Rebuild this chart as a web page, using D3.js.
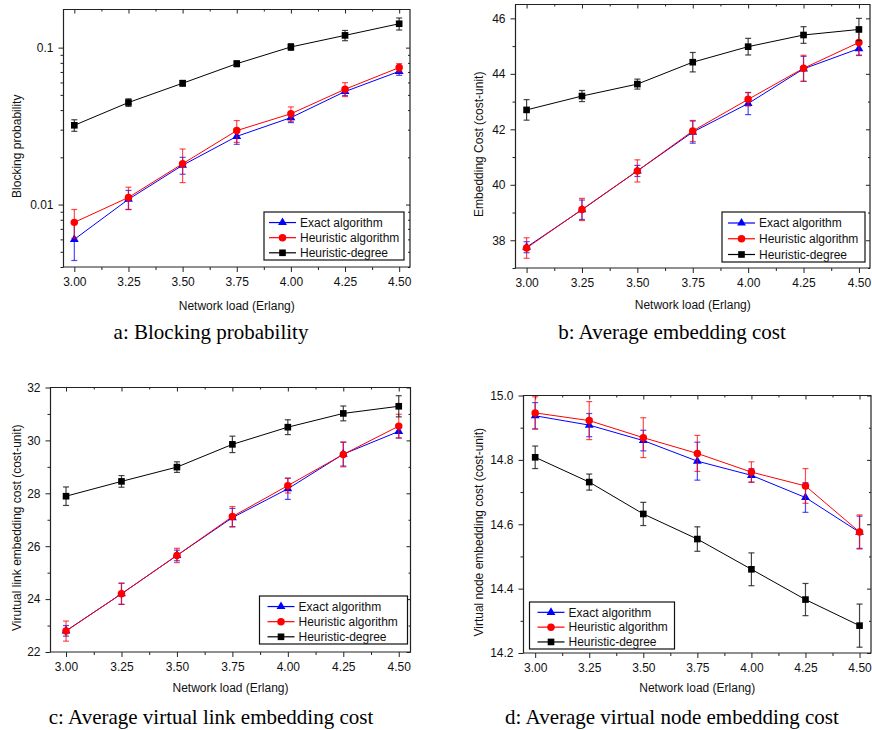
<!DOCTYPE html>
<html>
<head>
<meta charset="utf-8">
<script src="https://cdn.jsdelivr.net/npm/d3@7"></script>
<style>
  body { margin: 0; background: #fff; }
  svg { display: block; }
  .tick text { font-family: "Liberation Sans", Arial, sans-serif; font-size: 12px; fill: #111; }
  .ttl { font-family: "Liberation Sans", Arial, sans-serif; font-size: 12px; fill: #111; }
  .cap { font-family: "Liberation Serif", "Times New Roman", serif; font-size: 21px; fill: #000; }
  .leg { font-family: "Liberation Sans", Arial, sans-serif; font-size: 12px; fill: #111; }
</style>
</head>
<body>
<div id="chart"></div>
<script>
// network load values on x, shared by all 4 plots
var loads = [3.00, 3.25, 3.50, 3.75, 4.00, 4.25, 4.50];
var seriesNames = ["Exact algorithm", "Heuristic algorithm", "Heuristic-degree"];

// a: blocking probability
var blockExact    = [0.0060, 0.0108, 0.0178, 0.0272, 0.0358, 0.0525, 0.0706];
var blockExactErr = [0.0016, 0.0015, 0.0022, 0.0030, 0.0025, 0.0030, 0.0040];
var blockHeur     = [0.0077, 0.0111, 0.0182, 0.0296, 0.0379, 0.0543, 0.0746];
var blockHeurErr  = [0.0016, 0.0018, 0.0044, 0.0047, 0.0040, 0.0055, 0.0045];
var blockDeg      = [0.0320, 0.0447, 0.0593, 0.0790, 0.1010, 0.1197, 0.1420];
var blockDegErr   = [0.0027, 0.0025, 0.0025, 0.0035, 0.0050, 0.0090, 0.0125];

// b: average embedding cost
var costExact    = [37.75, 39.10, 40.50, 41.90, 42.93, 44.18, 44.91];
var costExactErr = [0.20, 0.35, 0.20, 0.40, 0.40, 0.45, 0.25];
var costHeur     = [37.72, 39.11, 40.50, 41.94, 43.08, 44.20, 45.13];
var costHeurErr  = [0.37, 0.40, 0.40, 0.38, 0.24, 0.47, 0.45];
var costDeg      = [42.70, 43.20, 43.63, 44.42, 44.98, 45.40, 45.60];
var costDegErr   = [0.37, 0.20, 0.18, 0.35, 0.30, 0.30, 0.40];

// c: average virtual link embedding cost
var linkExact    = [22.80, 24.20, 25.65, 27.08, 28.17, 29.48, 30.34];
var linkExactErr = [0.20, 0.40, 0.20, 0.35, 0.40, 0.45, 0.25];
var linkHeur     = [22.79, 24.20, 25.65, 27.12, 28.29, 29.47, 30.54];
var linkHeurErr  = [0.38, 0.40, 0.27, 0.38, 0.28, 0.47, 0.45];
var linkDeg      = [27.89, 28.45, 28.99, 29.85, 30.50, 31.02, 31.29];
var linkDegErr   = [0.35, 0.22, 0.20, 0.31, 0.28, 0.28, 0.40];

// d: average virtual node embedding cost
var nodeExact    = [14.937, 14.908, 14.860, 14.796, 14.752, 14.683, 14.575];
var nodeExactErr = [0.041, 0.036, 0.032, 0.059, 0.021, 0.046, 0.050];
var nodeHeur     = [14.946, 14.922, 14.869, 14.820, 14.762, 14.719, 14.576];
var nodeHeurErr  = [0.050, 0.059, 0.062, 0.056, 0.032, 0.054, 0.053];
var nodeDeg      = [14.808, 14.731, 14.632, 14.554, 14.460, 14.366, 14.285];
var nodeDegErr   = [0.035, 0.025, 0.036, 0.038, 0.051, 0.050, 0.067];

// tick values
var xMinor = d3.range(3.125, 4.5, 0.25);
var blockTicks = [0.01, 0.1];
var blockMinor = [0.004, 0.005, 0.006, 0.007, 0.008, 0.009, 0.02, 0.03, 0.04, 0.05, 0.06, 0.07, 0.08, 0.09];
var costTicks = [38, 40, 42, 44, 46];
var costMinor = [37, 39, 41, 43, 45];
var linkTicks = [22, 24, 26, 28, 30, 32];
var linkMinor = [23, 25, 27, 29, 31];
var nodeTicks = [14.2, 14.4, 14.6, 14.8, 15.0];
var nodeMinor = [14.3, 14.5, 14.7, 14.9];

var colors = ["#0000ff", "#ff0000", "#000000"];
var symbols = [d3.symbolTriangle, d3.symbolCircle, d3.symbolSquare];
var symSizes = [34, 44, 44];

var panels = [
  { box: [63.5, 9.5, 410, 267], xdom: [2.95, 4.55], log: true, ydom: [0.004, 0.175],
    yt: blockTicks, ym: blockMinor, yfmt: d3.format(""),
    series: [[blockExact, blockExactErr], [blockHeur, blockHeurErr], [blockDeg, blockDegErr]],
    ytitle: "Blocking probability", ytx: 21, xty: 310,
    cap: "a: Blocking probability", capx: 211, capy: 339,
    leg: [264, 212, 140, 48, 5] },
  { box: [515.5, 4.5, 870, 268], xdom: [2.95, 4.55], ydom: [37, 46.5],
    yt: costTicks, ym: costMinor, yfmt: d3.format("d"),
    series: [[costExact, costExactErr], [costHeur, costHeurErr], [costDeg, costDegErr]],
    ytitle: "Embedding Cost (cost-unit)", ytx: 483, xty: 309,
    cap: "b: Average embedding cost", capx: 672, capy: 339,
    leg: [722, 212, 143, 50, 6] },
  { box: [50.5, 387.5, 410.5, 652], xdom: [2.93, 4.553], ydom: [22, 32],
    yt: linkTicks, ym: linkMinor, yfmt: d3.format("d"),
    series: [[linkExact, linkExactErr], [linkHeur, linkHeurErr], [linkDeg, linkDegErr]],
    ytitle: "Virutual link embedding cost (cost-unit)", ytx: 21, xty: 692,
    cap: "c: Average virtual link embedding cost", capx: 211, capy: 724,
    leg: [259.5, 596, 148, 48, 8] },
  { box: [523.5, 395.5, 871, 653], xdom: [2.946, 4.553], ydom: [14.2, 15.0],
    yt: nodeTicks, ym: nodeMinor, yfmt: d3.format(".1f"),
    series: [[nodeExact, nodeExactErr], [nodeHeur, nodeHeurErr], [nodeDeg, nodeDegErr]],
    ytitle: "Virtual node embedding cost (cost-unit)", ytx: 483, xty: 692,
    cap: "d: Average virtual node embedding cost", capx: 672, capy: 724,
    leg: [529.5, 602, 145, 47, 8] }
];

var svg = d3.select("#chart").append("svg")
  .attr("width", 872)
  .attr("height", 730);

panels.forEach(function(p) {
  var L = p.box[0], T = p.box[1], R = p.box[2], B = p.box[3];
  var x = d3.scaleLinear().domain(p.xdom).range([L, R]);
  var y = (p.log ? d3.scaleLog() : d3.scaleLinear()).domain(p.ydom).range([B, T]);

  var g = svg.append("g");

  // axes: outward ticks bottom/left, inward ticks top/right
  function ax(a, tr) {
    var sel = g.append("g").attr("transform", tr).call(a);
    sel.select(".domain").remove();
    sel.selectAll(".tick line").attr("stroke", "#222");
    return sel;
  }
  ax(d3.axisBottom(x).tickValues(loads).tickFormat(d3.format(".2f")).tickSize(5).tickPadding(5), "translate(0," + B + ")");
  ax(d3.axisBottom(x).tickValues(xMinor).tickFormat("").tickSize(3), "translate(0," + B + ")");
  ax(d3.axisTop(x).tickValues(loads).tickFormat("").tickSize(-4), "translate(0," + T + ")");
  ax(d3.axisTop(x).tickValues(xMinor).tickFormat("").tickSize(-2), "translate(0," + T + ")");
  ax(d3.axisLeft(y).tickValues(p.yt).tickFormat(p.yfmt).tickSize(5).tickPadding(5), "translate(" + L + ",0)");
  ax(d3.axisLeft(y).tickValues(p.ym).tickFormat("").tickSize(3), "translate(" + L + ",0)");
  ax(d3.axisRight(y).tickValues(p.yt).tickFormat("").tickSize(-4), "translate(" + R + ",0)");
  ax(d3.axisRight(y).tickValues(p.ym).tickFormat("").tickSize(-2), "translate(" + R + ",0)");

  // frame
  g.append("path")
    .attr("d", "M" + R + "," + T + "H" + L + "V" + B + "H" + R + "Z")
    .attr("fill", "none")
    .attr("stroke", "#222")
    .attr("stroke-width", 1.2);

  // series
  p.series.forEach(function(s, k) {
    var vals = s[0], errs = s[1];
    var pts = loads.map(function(l, i) { return { x: l, v: vals[i], e: errs[i] }; });

    g.append("path")
      .datum(pts)
      .attr("fill", "none")
      .attr("stroke", colors[k])
      .attr("stroke-width", 1)
      .attr("d", d3.line().x(function(d) { return x(d.x); }).y(function(d) { return y(d.v); }));

    var eb = g.append("g")
      .attr("stroke", k == 2 ? "#222" : colors[k])
      .attr("stroke-opacity", k == 2 ? 0.85 : 0.7)
      .attr("stroke-width", 1.2);
    pts.forEach(function(d) {
      var cx = x(d.x), y1 = y(d.v + d.e), y0 = y(d.v - d.e);
      eb.append("line").attr("x1", cx).attr("x2", cx).attr("y1", y1).attr("y2", y0);
      eb.append("line").attr("x1", cx - 3).attr("x2", cx + 3).attr("y1", y1).attr("y2", y1);
      eb.append("line").attr("x1", cx - 3).attr("x2", cx + 3).attr("y1", y0).attr("y2", y0);
    });

    g.selectAll(null)
      .data(pts)
      .enter().append("path")
      .attr("transform", function(d) { return "translate(" + x(d.x) + "," + y(d.v) + ")"; })
      .attr("d", d3.symbol().type(symbols[k]).size(symSizes[k]))
      .attr("fill", colors[k]);
  });

  // axis titles
  g.append("text").attr("class", "ttl")
    .attr("x", (L + R) / 2).attr("y", p.xty)
    .attr("text-anchor", "middle")
    .text("Network load (Erlang)");
  g.append("text").attr("class", "ttl")
    .attr("transform", "translate(" + p.ytx + "," + ((T + B) / 2 + 8) + ") rotate(-90)")
    .attr("text-anchor", "middle")
    .text(p.ytitle);

  // caption
  g.append("text").attr("class", "cap")
    .attr("x", p.capx).attr("y", p.capy)
    .attr("text-anchor", "middle")
    .text(p.cap);

  // legend
  var lx = p.leg[0], ly = p.leg[1], lw = p.leg[2], lh = p.leg[3], li = p.leg[4];
  var lg = g.append("g");
  lg.append("rect")
    .attr("x", lx).attr("y", ly).attr("width", lw).attr("height", lh)
    .attr("fill", "#fff").attr("stroke", "#111").attr("stroke-width", 1.2);
  seriesNames.forEach(function(name, k) {
    var ry = ly + lh * (k * 0.315 + 0.22);
    lg.append("line")
      .attr("x1", lx + li).attr("x2", lx + li + 27)
      .attr("y1", ry).attr("y2", ry)
      .attr("stroke", colors[k]).attr("stroke-width", 1.2);
    lg.append("path")
      .attr("transform", "translate(" + (lx + li + 13.5) + "," + ry + ")")
      .attr("d", d3.symbol().type(symbols[k]).size(symSizes[k]))
      .attr("fill", colors[k]);
    lg.append("text").attr("class", "leg")
      .attr("x", lx + li + 31).attr("y", ry + 4.3)
      .text(name);
  });
});
</script>
</body>
</html>
